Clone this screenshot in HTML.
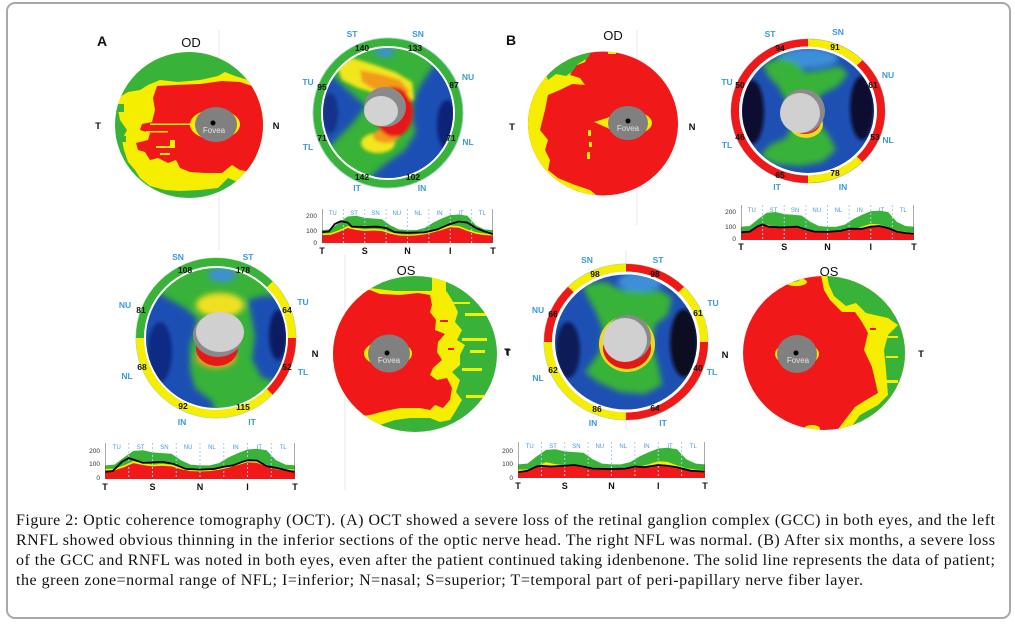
<!DOCTYPE html>
<html><head><meta charset="utf-8"><style>
html,body{margin:0;padding:0;background:#fff;}
svg{display:block}
.lb{font:bold 8.5px "Liberation Sans",sans-serif;fill:#3a9ad8;text-anchor:middle}
.nm{font:bold 8.5px "Liberation Sans",sans-serif;fill:#111;text-anchor:middle}
.cl{font:6px "Liberation Sans",sans-serif;fill:#4a9ad8;text-anchor:middle}
.yl{font:6.5px "Liberation Sans",sans-serif;fill:#333;text-anchor:end}
.ax{font:bold 9px "Liberation Sans",sans-serif;fill:#111;text-anchor:middle}
.big{font:bold 14px "Liberation Sans",sans-serif;fill:#111}
.eye{font:13px "Liberation Sans",sans-serif;fill:#111;text-anchor:middle}
.tn{font:bold 9.5px "Liberation Sans",sans-serif;fill:#111;text-anchor:middle}
.fv{font:8px "Liberation Sans",sans-serif;fill:#e4e4e4;text-anchor:middle}
.cap{font:16px "Liberation Serif",serif;fill:#111}
</style></head><body>
<svg width="1015" height="625" viewBox="0 0 1015 625" xmlns="http://www.w3.org/2000/svg">
<defs>
<filter id="bl" x="-30%" y="-30%" width="160%" height="160%"><feGaussianBlur stdDeviation="3"/></filter>
<filter id="bl2" x="-30%" y="-30%" width="160%" height="160%"><feGaussianBlur stdDeviation="1.5"/></filter>
<clipPath id="tA1"><ellipse cx="189" cy="125" rx="74" ry="73"/></clipPath>
<clipPath id="tA2"><ellipse cx="415" cy="354" rx="82" ry="78"/></clipPath>
<clipPath id="tB1"><ellipse cx="603" cy="123.5" rx="75" ry="72"/></clipPath>
<clipPath id="tB2"><ellipse cx="824" cy="353" rx="81" ry="77"/></clipPath>
<clipPath id="rA1"><circle cx="388" cy="113" r="65"/></clipPath>
<clipPath id="rA2"><circle cx="216" cy="338" r="70"/></clipPath>
<clipPath id="rB1"><ellipse cx="808" cy="111" rx="66" ry="62"/></clipPath>
<clipPath id="rB2"><ellipse cx="626" cy="342" rx="71" ry="67.5"/></clipPath>
</defs>
<rect width="1015" height="625" fill="#fff"/>
<rect x="7" y="3" width="1003" height="615" rx="8" fill="#fff" stroke="#a8a8a8" stroke-width="2"/>

<!-- faint guide lines -->
<g stroke="#e3e7ee" stroke-width="1">
<line x1="219" y1="30" x2="219" y2="250"/>
<line x1="345" y1="255" x2="345" y2="490"/>
<line x1="637" y1="30" x2="637" y2="225"/>
<line x1="626" y1="250" x2="626" y2="430"/>
</g>

<!-- ===== A OD thickness map ===== -->
<text x="97" y="46" class="big">A</text>
<text x="191" y="47" class="eye">OD</text>
<text x="98" y="129" class="tn">T</text>
<text x="276" y="129" class="tn">N</text>
<g clip-path="url(#tA1)">
<rect x="110" y="48" width="160" height="155" fill="#38b238"/>
<path d="M118,98 L128,92 L140,90 L148,85 L160,80 L178,82 L200,80 L218,76 L225,72 L235,76 L248,80 L270,90 L270,180 L250,178 L240,183 L228,178 L218,188 L200,190 L180,191 L165,190 L150,186 L140,178 L135,170 L128,162 L124,150 L122,140 L127,130 L120,120 L118,110 Z" fill="#f5ee00"/>
<rect x="112" y="104" width="12" height="8" fill="#38b238"/>
<rect x="112" y="136" width="14" height="6" fill="#38b238"/>
<path d="M157,86 L175,85 L200,84 L222,81 L240,82 L252,86 L270,95 L270,170 L252,172 L240,170 L232,165 L222,173 L205,173 L190,172 L180,168 L176,160 L168,163 L158,158 L150,160 L145,152 L138,150 L136,143 L148,140 L150,133 L140,130 L142,124 L152,122 L155,110 L153,98 Z" fill="#f01818"/>
<rect x="150" y="123.5" width="42" height="1.5" fill="#f5ee00"/>
<rect x="146" y="131" width="22" height="1.5" fill="#f5ee00"/>
<rect x="156" y="146" width="14" height="2" fill="#f5ee00"/>
<rect x="170" y="140" width="5" height="8" fill="#f5ee00"/>
<rect x="160" y="153" width="10" height="2" fill="#f5ee00"/>
</g>
<ellipse cx="215" cy="124.5" rx="25" ry="15" fill="#f5ee00"/>
<ellipse cx="216" cy="124.5" rx="21" ry="17.5" fill="#808080"/>
<circle cx="213" cy="123" r="2.5" fill="#000"/>
<text x="214" y="133" class="fv">Fovea</text>

<!-- ===== A OD RNFL map ===== -->
<text x="352" y="37" class="lb">ST</text><text x="418" y="37" class="lb">SN</text>
<text x="308" y="85" class="lb">TU</text><text x="468" y="80" class="lb">NU</text>
<text x="308" y="150" class="lb">TL</text><text x="468" y="145" class="lb">NL</text>
<text x="357" y="191" class="lb">IT</text><text x="422" y="191" class="lb">IN</text>
<circle cx="388" cy="113" r="75.5" fill="#9ccfc8"/>
<circle cx="388" cy="113" r="74.5" fill="#38b238"/>
<circle cx="388" cy="113" r="67" fill="#fff"/>
<g clip-path="url(#rA1)">
<rect x="320" y="45" width="140" height="140" fill="#38b238"/>
<g filter="url(#bl)">
<path d="M318,66 L332,76 L352,94 L366,106 L352,124 L334,142 L318,160 Z" fill="#1e50b4"/>
<path d="M445,48 L432,68 L420,86 L413,102 L412,118 L416,132 L405,150 L388,162 L372,175 L370,190 L460,190 L460,48 Z" fill="#1e50b4"/>
<ellipse cx="385" cy="52" rx="10" ry="5" fill="#3c8fd8"/>
</g>
<g filter="url(#bl2)">
<ellipse cx="330" cy="113" rx="8" ry="20" fill="#12308a"/>
<ellipse cx="447" cy="125" rx="10" ry="25" fill="#0e2478"/>
<path d="M336,64 L352,58 L372,64 L395,72 L412,82 L414,100 L398,98 L378,94 L358,88 L342,80 Z" fill="#f2e61e"/>
<path d="M360,70 L380,74 L400,80 L410,92 L396,96 L375,90 L362,82 Z" fill="#f29a1e"/>
<ellipse cx="378" cy="143" rx="17" ry="10" fill="#f2e61e"/>
<ellipse cx="386" cy="136" rx="13" ry="7" fill="#f29a1e"/>
<ellipse cx="394" cy="112" rx="19" ry="25" fill="#e81818"/>
</g>
<ellipse cx="385" cy="107" rx="21" ry="20" fill="#8a8a8a"/>
<ellipse cx="381" cy="111" rx="17" ry="15" fill="#d2d2d2"/>
</g>
<text x="362" y="51" class="nm">140</text><text x="415" y="51" class="nm">133</text>
<text x="322" y="90" class="nm">95</text><text x="454" y="88" class="nm">87</text>
<text x="322" y="141" class="nm">71</text><text x="451" y="141" class="nm">71</text>
<text x="362" y="180" class="nm">142</text><text x="413" y="180" class="nm">102</text>

<!-- ===== Chart A top ===== -->
<svg x="322" y="209" width="171" height="34" viewBox="0 0 200 250" preserveAspectRatio="none">
<rect width="200" height="250" fill="#fff"/>
<path d="M0,155 L10,150 L20,100 L30,55 L40,50 L50,65 L60,70 L70,75 L80,120 L90,150 L100,155 L110,155 L120,140 L130,100 L140,70 L150,45 L160,40 L170,50 L180,120 L190,150 L200,155 L200,250 L0,250 Z" fill="#38b238"/>
<path d="M0,180 L10,178 L20,155 L30,125 L40,140 L50,150 L60,145 L70,150 L80,170 L90,185 L100,188 L110,185 L120,175 L130,160 L140,140 L150,120 L160,125 L170,150 L180,170 L190,180 L200,185 L200,250 L0,250 Z" fill="#f5ee00"/>
<path d="M0,192 L10,190 L20,168 L30,140 L40,154 L50,162 L60,158 L70,162 L80,182 L90,195 L100,198 L110,195 L120,187 L130,172 L140,154 L150,134 L160,138 L170,162 L180,182 L190,192 L200,195 L200,250 L0,250 Z" fill="#f01818"/>
<path d="M25,0V250M50,0V250M75,0V250M100,0V250M125,0V250M150,0V250M175,0V250" stroke="#a8cfee" stroke-width="1" stroke-dasharray="2 2" vector-effect="non-scaling-stroke"/>
<polyline points="0,170 8,165 15,110 22,90 30,100 35,130 50,132 65,130 75,140 85,170 100,175 120,172 135,150 150,110 160,92 170,100 180,140 190,165 200,185" fill="none" stroke="#000" stroke-width="1.8" vector-effect="non-scaling-stroke"/>
<path d="M0,0V250M200,0V250" stroke="#555" stroke-width="1" vector-effect="non-scaling-stroke"/>
</svg>
<text x="332.7" y="215" class="cl">TU</text><text x="354.1" y="215" class="cl">ST</text><text x="375.5" y="215" class="cl">SN</text><text x="396.8" y="215" class="cl">NU</text><text x="418.2" y="215" class="cl">NL</text><text x="439.6" y="215" class="cl">IN</text><text x="461" y="215" class="cl">IT</text><text x="482.3" y="215" class="cl">TL</text>
<text x="317" y="218" class="yl">200</text><text x="317" y="233" class="yl">100</text><text x="317" y="245" class="yl">0</text>
<text x="322" y="254" class="ax">T</text><text x="364.75" y="254" class="ax">S</text><text x="407.5" y="254" class="ax">N</text><text x="450.25" y="254" class="ax">I</text><text x="493" y="254" class="ax">T</text>

<!-- ===== A OS RNFL map ===== -->
<text x="178" y="260" class="lb">SN</text><text x="248" y="260" class="lb">ST</text>
<text x="125" y="308" class="lb">NU</text><text x="303" y="305" class="lb">TU</text>
<text x="127" y="379" class="lb">NL</text><text x="303" y="375" class="lb">TL</text>
<text x="182" y="425" class="lb">IN</text><text x="252" y="425" class="lb">IT</text>
<circle cx="216" cy="338" r="80.5" fill="#9ccfc8"/>
<circle cx="216" cy="338" r="76" fill="none" stroke="#f5ee00" stroke-width="8"/>
<circle cx="216" cy="338" r="76" fill="none" stroke="#38b238" stroke-width="8" stroke-dasharray="179.07 400" transform="rotate(180 216 338)"/>
<circle cx="216" cy="338" r="76" fill="none" stroke="#f01818" stroke-width="8" stroke-dasharray="59.69 420" transform="rotate(0 216 338)"/>
<circle cx="216" cy="338" r="72" fill="#fff"/>
<g clip-path="url(#rA2)">
<rect x="140" y="262" width="155" height="155" fill="#38b238"/>
<g filter="url(#bl)">
<path d="M146,285 L165,297 L185,308 L197,318 L195,332 L190,345 L190,370 L195,388 L213,402 L215,415 L140,415 L140,285 Z" fill="#1e50b4"/>
<path d="M248,300 L262,296 L292,296 L292,385 L262,378 L252,360 L255,335 Z" fill="#1e50b4"/>
<ellipse cx="222" cy="275" rx="14" ry="7" fill="#3c8fd8"/>
<ellipse cx="220" cy="305" rx="24" ry="12" fill="#f0e020"/>
<ellipse cx="216" cy="358" rx="20" ry="10" fill="#f0a020"/>
</g>
<g filter="url(#bl2)">
<ellipse cx="160" cy="352" rx="12" ry="30" fill="#0e2a84"/>
<ellipse cx="278" cy="335" rx="9" ry="25" fill="#0a1c62"/>
</g>
<ellipse cx="217" cy="348" rx="21" ry="18" fill="#e81818"/>
<ellipse cx="218" cy="335" rx="25" ry="22" fill="#8a8a8a"/>
<ellipse cx="220" cy="332" rx="24" ry="20" fill="#d0d0d0"/>
</g>
<text x="185" y="273" class="nm">108</text><text x="243" y="273" class="nm">178</text>
<text x="141" y="313" class="nm">81</text><text x="287" y="313" class="nm">64</text>
<text x="142" y="370" class="nm">68</text><text x="287" y="370" class="nm">52</text>
<text x="183" y="409" class="nm">92</text><text x="243" y="410" class="nm">115</text>

<!-- ===== Chart A bottom ===== -->
<svg x="105" y="443" width="190" height="36" viewBox="0 0 200 250" preserveAspectRatio="none">
<rect width="200" height="250" fill="#fff"/>
<path d="M0,155 L10,150 L20,100 L30,55 L40,50 L50,65 L60,70 L70,75 L80,120 L90,150 L100,155 L110,155 L120,140 L130,100 L140,70 L150,45 L160,40 L170,50 L180,120 L190,150 L200,155 L200,250 L0,250 Z" fill="#38b238"/>
<path d="M0,180 L10,178 L20,155 L30,125 L40,140 L50,150 L60,145 L70,150 L80,170 L90,185 L100,188 L110,185 L120,175 L130,160 L140,140 L150,120 L160,125 L170,150 L180,170 L190,180 L200,185 L200,250 L0,250 Z" fill="#f5ee00"/>
<path d="M0,192 L10,190 L20,168 L30,140 L40,154 L50,162 L60,158 L70,162 L80,182 L90,195 L100,198 L110,195 L120,187 L130,172 L140,154 L150,134 L160,138 L170,162 L180,182 L190,192 L200,195 L200,250 L0,250 Z" fill="#f01818"/>
<path d="M25,0V250M50,0V250M75,0V250M100,0V250M125,0V250M150,0V250M175,0V250" stroke="#a8cfee" stroke-width="1" stroke-dasharray="2 2" vector-effect="non-scaling-stroke"/>
<polyline points="0,200 8,195 18,130 25,105 32,120 40,138 50,135 60,130 72,145 85,180 100,185 115,180 125,165 135,155 145,130 150,120 160,122 170,160 182,175 195,195 200,200" fill="none" stroke="#000" stroke-width="1.8" vector-effect="non-scaling-stroke"/>
<path d="M0,0V250M200,0V250" stroke="#555" stroke-width="1" vector-effect="non-scaling-stroke"/>
</svg>
<text x="116.9" y="449" class="cl">TU</text><text x="140.6" y="449" class="cl">ST</text><text x="164.4" y="449" class="cl">SN</text><text x="188.1" y="449" class="cl">NU</text><text x="211.9" y="449" class="cl">NL</text><text x="235.6" y="449" class="cl">IN</text><text x="259.4" y="449" class="cl">IT</text><text x="283.1" y="449" class="cl">TL</text>
<text x="100" y="453" class="yl">200</text><text x="100" y="466" class="yl">100</text><text x="100" y="480" class="yl">0</text>
<text x="105" y="490" class="ax">T</text><text x="152.5" y="490" class="ax">S</text><text x="200" y="490" class="ax">N</text><text x="247.5" y="490" class="ax">I</text><text x="295" y="490" class="ax">T</text>

<!-- ===== A OS thickness map ===== -->
<text x="406" y="275" class="eye">OS</text>
<text x="315" y="357" class="tn">N</text>
<text x="507" y="355" class="tn">T</text>
<g clip-path="url(#tA2)">
<rect x="330" y="272" width="170" height="165" fill="#38b238"/>
<path d="M330,290 L370,288 L395,291 L430,291 L440,288 L447,292 L452,300 L458,312 L455,322 L462,330 L457,340 L465,345 L460,355 L460,365 L452,372 L460,380 L456,392 L462,400 L455,412 L450,420 L440,422 L430,418 L410,418 L395,420 L380,425 L330,430 Z" fill="#f5ee00"/>
<rect x="432" y="274" width="14" height="18" fill="#f5ee00"/>
<rect x="465" y="313" width="22" height="3" fill="#f5ee00"/>
<rect x="462" y="338" width="25" height="3" fill="#f5ee00"/>
<rect x="470" y="350" width="15" height="3" fill="#f5ee00"/>
<rect x="462" y="368" width="20" height="3" fill="#f5ee00"/>
<rect x="466" y="395" width="18" height="3" fill="#f5ee00"/>
<rect x="450" y="302" width="20" height="2" fill="#f5ee00"/>
<path d="M330,295 L355,292 L370,290 L380,294 L400,295 L418,293 L430,295 L432,305 L430,312 L436,320 L435,330 L445,334 L438,342 L437,352 L442,360 L433,368 L430,375 L437,380 L447,378 L452,388 L450,400 L443,408 L435,405 L430,410 L420,408 L400,408 L385,411 L370,415 L330,420 Z" fill="#f01818"/>
<rect x="440" y="320" width="8" height="2" fill="#f01818"/>
<rect x="448" y="348" width="6" height="2" fill="#f01818"/>
</g>
<ellipse cx="388" cy="353.5" rx="24" ry="13" fill="#f5ee00"/>
<ellipse cx="389" cy="353.5" rx="21" ry="19" fill="#808080"/>
<circle cx="387" cy="353" r="2.5" fill="#000"/>
<text x="389" y="363" class="fv">Fovea</text>

<!-- ===== B OD thickness map ===== -->
<text x="506" y="45" class="big">B</text>
<text x="613" y="40" class="eye">OD</text>
<text x="512" y="130" class="tn">T</text>
<text x="692" y="130" class="tn">N</text>
<g clip-path="url(#tB1)">
<rect x="525" y="48" width="160" height="152" fill="#f01818"/>
<path d="M560,58 L575,52 L590,50 L585,62 L575,66 L570,75 L580,78 L585,85 L572,84 L560,90 L548,95 L545,110 L540,130 L548,140 L545,150 L550,160 L548,170 L558,178 L575,185 L590,190 L600,198 L520,198 L520,50 Z" fill="#f5ee00"/>
<path d="M545,72 L555,62 L572,54 L592,50 L588,58 L578,64 L572,72 L566,76 L556,74 L548,80 Z" fill="#38b238"/>
<path d="M545,180 L560,186 L578,191 L590,198 L545,198 Z" fill="#38b238"/>
<rect x="588" y="130" width="3" height="6" fill="#f5ee00"/>
<rect x="589" y="142" width="3" height="5" fill="#f5ee00"/>
<rect x="587" y="152" width="3" height="7" fill="#f5ee00"/>
<rect x="608" y="51" width="8" height="3" fill="#f5ee00"/>
<path d="M594,122 L610,117 L610,129 Z" fill="#f5ee00"/>
</g>
<ellipse cx="629" cy="123" rx="23" ry="12" fill="#f5ee00"/>
<ellipse cx="628" cy="123" rx="20" ry="17" fill="#808080"/>
<circle cx="628" cy="121" r="2.5" fill="#000"/>
<text x="628" y="131" class="fv">Fovea</text>

<!-- ===== B OD RNFL map ===== -->
<text x="770" y="37" class="lb">ST</text><text x="838" y="35" class="lb">SN</text>
<text x="727" y="85" class="lb">TU</text><text x="888" y="78" class="lb">NU</text>
<text x="727" y="148" class="lb">TL</text><text x="888" y="143" class="lb">NL</text>
<text x="777" y="190" class="lb">IT</text><text x="843" y="190" class="lb">IN</text>
<g transform="translate(808 111) scale(1 0.935)">
<circle r="77.5" fill="#9ccfc8"/>
<circle r="73" fill="none" stroke="#f01818" stroke-width="8"/>
<circle r="73" fill="none" stroke="#f5ee00" stroke-width="8" stroke-dasharray="57.33 420" transform="rotate(270)"/>
<circle r="73" fill="none" stroke="#f5ee00" stroke-width="8" stroke-dasharray="57.33 420" transform="rotate(45)"/>
<circle r="69" fill="#fff"/>
</g>
<g clip-path="url(#rB1)">
<rect x="740" y="47" width="136" height="128" fill="#1e50b4"/>
<g filter="url(#bl)">
<ellipse cx="808" cy="58" rx="30" ry="10" fill="#3c8fd8"/>
<path d="M763,64 L780,58 L795,62 L805,72 L822,70 L840,66 L848,74 L838,86 L822,94 L815,104 L816,122 L828,134 L836,150 L822,162 L800,166 L775,164 L760,156 L770,145 L786,138 L792,126 L788,104 L778,86 L768,76 Z" fill="#38b238"/>
</g>
<g filter="url(#bl2)">
<ellipse cx="752" cy="112" rx="12" ry="32" fill="#0c1030"/>
<ellipse cx="862" cy="108" rx="12" ry="32" fill="#0c1030"/>
</g>
<ellipse cx="806" cy="124" rx="17" ry="14" fill="#f0d820"/>
<ellipse cx="805" cy="121" rx="16" ry="13" fill="#e02020"/>
<circle cx="803" cy="111" r="22" fill="#8a8a8a"/>
<circle cx="800" cy="113" r="20" fill="#d0d0d0"/>
</g>
<text x="780" y="51" class="nm">94</text><text x="835" y="50" class="nm">91</text>
<text x="740" y="88" class="nm">50</text><text x="873" y="88" class="nm">61</text>
<text x="740" y="140" class="nm">46</text><text x="875" y="140" class="nm">53</text>
<text x="780" y="178" class="nm">65</text><text x="835" y="176" class="nm">78</text>

<!-- ===== Chart B top ===== -->
<svg x="741" y="205" width="173" height="35" viewBox="0 0 200 250" preserveAspectRatio="none">
<rect width="200" height="250" fill="#fff"/>
<path d="M0,155 L10,150 L20,100 L30,55 L40,50 L50,65 L60,70 L70,75 L80,120 L90,150 L100,155 L110,155 L120,140 L130,100 L140,70 L150,45 L160,40 L170,50 L180,120 L190,150 L200,155 L200,250 L0,250 Z" fill="#38b238"/>
<path d="M0,192 L10,190 L20,168 L30,140 L40,154 L50,162 L60,158 L70,162 L80,182 L90,195 L100,198 L110,195 L120,187 L130,172 L140,154 L150,134 L160,138 L170,162 L180,182 L190,192 L200,195 L200,250 L0,250 Z" fill="#f5ee00"/>
<path d="M0,199 L10,194 L20,154 L25,144 L32,159 L45,164 L55,162 L65,159 L75,179 L85,194 L100,196 L115,189 L125,174 L140,174 L150,159 L160,154 L170,169 L180,194 L190,204 L200,209 L200,250 L0,250 Z" fill="#f01818"/>
<path d="M25,0V250M50,0V250M75,0V250M100,0V250M125,0V250M150,0V250M175,0V250" stroke="#a8cfee" stroke-width="1" stroke-dasharray="2 2" vector-effect="non-scaling-stroke"/>
<polyline points="0,195 10,190 20,150 25,140 32,155 45,160 55,158 65,155 75,175 85,190 100,192 115,185 125,170 140,170 150,155 160,150 170,165 180,190 190,200 200,205" fill="none" stroke="#000" stroke-width="1.8" vector-effect="non-scaling-stroke"/>
<path d="M0,0V250M200,0V250" stroke="#555" stroke-width="1" vector-effect="non-scaling-stroke"/>
</svg>
<text x="751.8" y="212" class="cl">TU</text><text x="773.4" y="212" class="cl">ST</text><text x="795.1" y="212" class="cl">SN</text><text x="816.7" y="212" class="cl">NU</text><text x="838.3" y="212" class="cl">NL</text><text x="859.9" y="212" class="cl">IN</text><text x="881.6" y="212" class="cl">IT</text><text x="903.2" y="212" class="cl">TL</text>
<text x="736" y="214" class="yl">200</text><text x="736" y="229" class="yl">100</text><text x="736" y="241" class="yl">0</text>
<text x="741" y="250" class="ax">T</text><text x="784.25" y="250" class="ax">S</text><text x="827.5" y="250" class="ax">N</text><text x="870.75" y="250" class="ax">I</text><text x="914" y="250" class="ax">T</text>

<!-- ===== B OS RNFL map ===== -->
<text x="587" y="263" class="lb">SN</text><text x="658" y="263" class="lb">ST</text>
<text x="538" y="313" class="lb">NU</text><text x="713" y="306" class="lb">TU</text>
<text x="538" y="381" class="lb">NL</text><text x="712" y="375" class="lb">TL</text>
<text x="593" y="426" class="lb">IN</text><text x="663" y="426" class="lb">IT</text>
<text x="508" y="356" class="tn">T</text>
<g transform="translate(626 342) scale(1 0.951)">
<circle r="82.5" fill="#9ccfc8"/>
<circle r="78" fill="none" stroke="#f5ee00" stroke-width="8"/>
<circle r="78" fill="none" stroke="#f01818" stroke-width="8" stroke-dasharray="122.52 400" transform="rotate(0)"/>
<circle r="78" fill="none" stroke="#f01818" stroke-width="8" stroke-dasharray="61.26 440" transform="rotate(180)"/>
<circle r="78" fill="none" stroke="#f01818" stroke-width="8" stroke-dasharray="61.26 440" transform="rotate(270)"/>
<circle r="74" fill="#fff"/>
</g>
<g clip-path="url(#rB2)">
<rect x="552" y="272" width="148" height="140" fill="#1e50b4"/>
<g filter="url(#bl)">
<ellipse cx="640" cy="282" rx="22" ry="10" fill="#3c8fd8"/>
<path d="M582,284 L605,282 L622,290 L645,292 L660,290 L672,298 L668,315 L655,325 L652,345 L658,365 L662,385 L645,394 L620,392 L598,382 L585,372 L600,352 L603,330 L596,312 L588,298 Z" fill="#38b238"/>
</g>
<g filter="url(#bl2)">
<ellipse cx="568" cy="350" rx="12" ry="28" fill="#0c1c58"/>
<ellipse cx="684" cy="343" rx="14" ry="34" fill="#0c0e22"/>
</g>
<circle cx="627" cy="344" r="28" fill="#f0d820"/>
<ellipse cx="627" cy="348" rx="24" ry="21" fill="#e01818"/>
<circle cx="628" cy="338" r="23" fill="#8a8a8a"/>
<circle cx="625" cy="340" r="22" fill="#d0d0d0"/>
</g>
<text x="595" y="277" class="nm">98</text><text x="655" y="277" class="nm">98</text>
<text x="553" y="317" class="nm">66</text><text x="698" y="316" class="nm">61</text>
<text x="553" y="373" class="nm">62</text><text x="698" y="371" class="nm">40</text>
<text x="597" y="412" class="nm">86</text><text x="655" y="411" class="nm">64</text>

<!-- ===== Chart B bottom ===== -->
<svg x="518" y="442" width="187" height="36" viewBox="0 0 200 250" preserveAspectRatio="none">
<rect width="200" height="250" fill="#fff"/>
<path d="M0,155 L10,150 L20,100 L30,55 L40,50 L50,65 L60,70 L70,75 L80,120 L90,150 L100,155 L110,155 L120,140 L130,100 L140,70 L150,45 L160,40 L170,50 L180,120 L190,150 L200,155 L200,250 L0,250 Z" fill="#38b238"/>
<path d="M0,192 L10,190 L20,168 L30,140 L40,154 L50,162 L60,158 L70,162 L80,182 L90,195 L100,198 L110,195 L120,187 L130,172 L140,154 L150,134 L160,138 L170,162 L180,182 L190,192 L200,195 L200,250 L0,250 Z" fill="#f5ee00"/>
<path d="M0,214 L10,204 L20,174 L25,169 L35,174 L50,169 L60,164 L70,174 L80,189 L100,192 L115,189 L125,174 L135,179 L150,164 L160,169 L170,179 L185,204 L200,209 L200,250 L0,250 Z" fill="#f01818"/>
<path d="M25,0V250M50,0V250M75,0V250M100,0V250M125,0V250M150,0V250M175,0V250" stroke="#a8cfee" stroke-width="1" stroke-dasharray="2 2" vector-effect="non-scaling-stroke"/>
<polyline points="0,210 10,200 20,170 25,165 35,170 50,165 60,160 70,170 80,185 100,188 115,185 125,170 135,175 150,160 160,165 170,175 185,200 200,205" fill="none" stroke="#000" stroke-width="1.8" vector-effect="non-scaling-stroke"/>
<path d="M0,0V250M200,0V250" stroke="#555" stroke-width="1" vector-effect="non-scaling-stroke"/>
</svg>
<text x="529.7" y="448" class="cl">TU</text><text x="553.1" y="448" class="cl">ST</text><text x="576.4" y="448" class="cl">SN</text><text x="599.8" y="448" class="cl">NU</text><text x="623.2" y="448" class="cl">NL</text><text x="646.6" y="448" class="cl">IN</text><text x="670" y="448" class="cl">IT</text><text x="693.3" y="448" class="cl">TL</text>
<text x="513" y="453" class="yl">200</text><text x="513" y="466" class="yl">100</text><text x="513" y="480" class="yl">0</text>
<text x="518" y="489" class="ax">T</text><text x="564.75" y="489" class="ax">S</text><text x="611.5" y="489" class="ax">N</text><text x="658.25" y="489" class="ax">I</text><text x="705" y="489" class="ax">T</text>

<!-- ===== B OS thickness map ===== -->
<text x="829" y="276" class="eye">OS</text>
<text x="725" y="358" class="tn">N</text>
<text x="921" y="357" class="tn">T</text>
<g clip-path="url(#tB2)">
<rect x="740" y="272" width="170" height="160" fill="#f01818"/>
<path d="M820,270 L824,290 L830,300 L842,312 L855,312 L862,322 L868,333 L864,350 L872,367 L878,393 L866,400 L855,407 L845,420 L836,432 L910,440 L910,270 Z" fill="#f5ee00"/>
<path d="M826,270 L829,285 L834,296 L846,306 L856,303 L866,313 L888,318 L898,325 L888,335 L884,350 L886,370 L888,395 L878,405 L860,415 L852,426 L910,440 L910,270 Z" fill="#38b238"/>
<rect x="884" y="336" width="14" height="2" fill="#f5ee00"/>
<rect x="886" y="356" width="12" height="2" fill="#f5ee00"/>
<rect x="884" y="380" width="14" height="3" fill="#f5ee00"/>
<rect x="870" y="328" width="6" height="2" fill="#f01818"/>
<ellipse cx="796" cy="282" rx="11" ry="4" fill="#f5ee00"/>
<ellipse cx="792" cy="279" rx="8" ry="3" fill="#38b238"/>
<ellipse cx="812" cy="429" rx="8" ry="4" fill="#f5ee00"/>
</g>
<ellipse cx="797" cy="354" rx="22" ry="12" fill="#f5ee00"/>
<ellipse cx="797" cy="354" rx="20" ry="19" fill="#808080"/>
<circle cx="796" cy="353" r="2.5" fill="#000"/>
<text x="798" y="363" class="fv">Fovea</text>

<!-- ===== Caption ===== -->
<text x="16" y="525" class="cap" textLength="979" lengthAdjust="spacing">Figure 2: Optic coherence tomography (OCT). (A) OCT showed a severe loss of the retinal ganglion complex (GCC) in both eyes, and the left</text>
<text x="16" y="545" class="cap" textLength="979" lengthAdjust="spacing">RNFL showed obvious thinning in the inferior sections of the optic nerve head. The right NFL was normal. (B) After six months, a severe loss</text>
<text x="16" y="565" class="cap" textLength="979" lengthAdjust="spacing">of the GCC and RNFL was noted in both eyes, even after the patient continued taking idenbenone. The solid line represents the data of patient;</text>
<text x="16" y="585" class="cap" textLength="847" lengthAdjust="spacing">the green zone=normal range of NFL; I=inferior; N=nasal; S=superior; T=temporal part of peri-papillary nerve fiber layer.</text>
</svg>
</body></html>
